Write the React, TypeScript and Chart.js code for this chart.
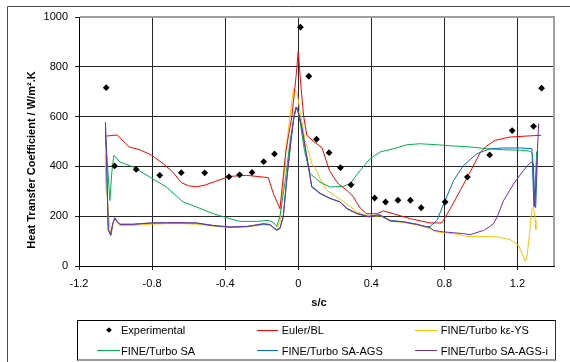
import React, { useEffect, useRef } from 'react';
import { Chart, registerables } from 'chart.js';

Chart.register(...registerables);

const FONT = '"Liberation Sans", Arial, sans-serif';

const xTicks = [-1.2, -0.8, -0.4, 0, 0.4, 0.8, 1.2];
const yTicks = [0, 200, 400, 600, 800, 1000];

const expX = [-1.051, -1.005, -0.887, -0.758, -0.64, -0.512, -0.379, -0.321, -0.253, -0.189, -0.13, 0.012, 0.058, 0.1, 0.169, 0.231, 0.289, 0.418, 0.478, 0.546, 0.614, 0.673, 0.804, 0.926, 1.048, 1.171, 1.288, 1.332];
const expY = [716, 402, 388, 364, 375, 374, 358, 366, 376, 419, 450, 959, 762, 509, 455, 395, 326, 273, 257, 264, 264, 234, 257, 357, 446, 544, 561, 714];

const eulerX = [-1.049, -0.991, -0.925, -0.867, -0.803, -0.739, -0.687, -0.64, -0.6, -0.556, -0.51, -0.465, -0.374, -0.282, -0.164, -0.136, -0.1, -0.067, -0.035, -0.012, 0.0, 0.015, 0.03, 0.047, 0.085, 0.13, 0.15, 0.17, 0.195, 0.22, 0.266, 0.3, 0.32, 0.34, 0.375, 0.43, 0.466, 0.521, 0.613, 0.722, 0.786, 0.832, 0.887, 0.941, 0.996, 1.024, 1.078, 1.16, 1.252, 1.329];
const eulerY = [522, 526, 478, 467, 445, 411, 378, 335, 322, 318, 325, 337, 360, 364, 355, 291, 230, 465, 600, 760, 863, 720, 600, 525, 500, 475, 430, 385, 355, 330, 304, 280, 255, 232, 210, 210, 221, 210, 190, 173, 173, 230, 304, 378, 455, 478, 505, 518, 522, 525];

const keX = [-1.057, -1.052, -1.046, -1.038, -1.026, -1.015, -1.002, -0.99, -0.976, -0.904, -0.812, -0.721, -0.63, -0.556, -0.465, -0.374, -0.282, -0.191, -0.155, -0.13, -0.118, -0.1, -0.085, -0.065, -0.045, -0.027, -0.008, 0.01, 0.037, 0.055, 0.074, 0.101, 0.119, 0.156, 0.211, 0.266, 0.32, 0.375, 0.43, 0.448, 0.503, 0.576, 0.649, 0.722, 0.759, 0.85, 0.923, 0.996, 1.088, 1.16, 1.206, 1.233, 1.243, 1.252, 1.266, 1.279, 1.288, 1.297, 1.301];
const keY = [445, 300, 290, 200, 120, 165, 190, 172, 163, 163, 168, 170, 170, 168, 160, 155, 157, 165, 164, 150, 147, 175, 300, 480, 600, 712, 700, 625, 505, 465, 411, 384, 351, 304, 277, 250, 217, 204, 200, 202, 180, 175, 165, 150, 137, 130, 119, 119, 117, 106, 83, 36, 19, 36, 130, 230, 237, 183, 146];

const saX = [-1.055, -1.045, -1.031, -1.02, -1.009, -0.976, -0.904, -0.812, -0.721, -0.63, -0.556, -0.465, -0.374, -0.319, -0.227, -0.164, -0.135, -0.118, -0.1, -0.07, -0.045, -0.02, -0.008, 0.01, 0.035, 0.065, 0.119, 0.174, 0.247, 0.284, 0.339, 0.393, 0.448, 0.521, 0.595, 0.667, 0.759, 0.85, 0.941, 1.033, 1.124, 1.215, 1.27, 1.283, 1.292, 1.305];
const saY = [525, 420, 263, 380, 445, 418, 398, 357, 317, 257, 237, 210, 190, 179, 179, 183, 175, 159, 200, 350, 500, 610, 639, 580, 460, 371, 337, 317, 320, 331, 384, 431, 458, 471, 487, 491, 487, 482, 478, 471, 467, 465, 461, 451, 240, 460];

const agsX = [-1.055, -1.048, -1.04, -1.028, -1.015, -1.004, -0.99, -0.976, -0.904, -0.812, -0.721, -0.63, -0.556, -0.465, -0.374, -0.282, -0.191, -0.155, -0.13, -0.118, -0.1, -0.082, -0.063, -0.04, -0.025, -0.012, 0.0, 0.019, 0.047, 0.065, 0.074, 0.119, 0.174, 0.229, 0.266, 0.32, 0.384, 0.43, 0.448, 0.503, 0.576, 0.649, 0.697, 0.722, 0.759, 0.804, 0.85, 0.905, 0.978, 1.051, 1.124, 1.215, 1.279, 1.29, 1.3, 1.31];
const agsY = [560, 380, 150, 125, 172, 192, 178, 168, 168, 172, 173, 173, 172, 162, 156, 158, 168, 166, 152, 146, 152, 200, 348, 505, 595, 638, 622, 560, 440, 360, 320, 293, 272, 258, 232, 212, 199, 205, 205, 183, 178, 168, 158, 159, 183, 263, 343, 404, 451, 471, 474, 474, 471, 240, 235, 460];

const agsiX = [-1.055, -1.048, -1.04, -1.026, -1.015, -1.004, -0.99, -0.976, -0.904, -0.812, -0.721, -0.63, -0.556, -0.465, -0.374, -0.282, -0.191, -0.155, -0.13, -0.118, -0.1, -0.082, -0.063, -0.04, -0.025, -0.012, 0.0, 0.019, 0.047, 0.065, 0.074, 0.119, 0.174, 0.229, 0.266, 0.32, 0.384, 0.43, 0.448, 0.503, 0.576, 0.649, 0.722, 0.74, 0.795, 0.905, 0.941, 1.014, 1.046, 1.069, 1.088, 1.124, 1.179, 1.233, 1.265, 1.279, 1.287, 1.295, 1.305, 1.316];
const agsiY = [578, 400, 143, 123, 170, 194, 178, 167, 167, 173, 174, 174, 173, 163, 157, 159, 170, 167, 150, 143, 150, 197, 344, 500, 590, 636, 620, 558, 438, 357, 317, 291, 271, 257, 230, 210, 197, 204, 204, 181, 177, 167, 154, 143, 137, 130, 126, 143, 157, 170, 196, 263, 330, 384, 411, 418, 411, 237, 400, 572];

const seriesNames = ['Experimental', 'Euler/BL', 'FINE/Turbo k\u03b5-YS', 'FINE/Turbo SA', 'FINE/Turbo SA-AGS', 'FINE/Turbo SA-AGS-i'];
const seriesColors = ['#000000', '#ff0000', '#ffc000', '#00b050', '#0070c0', '#7030a0'];

const pts = (xs: number[], ys: number[]) => xs.map((x, i) => ({ x, y: ys[i] }));

const framePlugin = {
  id: 'frame',
  beforeDraw(chart: any) {
    const { ctx } = chart;
    ctx.save();
    ctx.strokeStyle = '#4a4a4a';
    ctx.lineWidth = 1;
    ctx.beginPath();
    ctx.moveTo(7.5, 362);
    ctx.lineTo(7.5, 6.5);
    ctx.lineTo(570, 6.5);
    ctx.stroke();
    ctx.restore();
  },
  afterDraw(chart: any) {
    const { ctx, chartArea: a } = chart;
    ctx.save();
    ctx.strokeStyle = '#a0a0a0';
    ctx.lineWidth = 2;
    ctx.beginPath();
    ctx.moveTo(a.left + 1, a.top);
    ctx.lineTo(a.right, a.top);
    ctx.lineTo(a.right, a.bottom);
    ctx.stroke();
    ctx.restore();
  },
};

const lineDs = (i: number, xs: number[], ys: number[], order: number) => ({
  label: seriesNames[i],
  data: pts(xs, ys),
  showLine: true,
  borderColor: seriesColors[i],
  backgroundColor: seriesColors[i],
  borderWidth: 1,
  pointRadius: 0,
  tension: 0,
  fill: false,
  order,
});

export default function App() {
  const ref = useRef<HTMLCanvasElement>(null);

  useEffect(() => {
    if (!ref.current) return;
    const tickFont = { family: FONT, size: 11 };
    const chart = new Chart(ref.current, {
      type: 'scatter',
      data: {
        datasets: [
          {
            label: seriesNames[0],
            data: pts(expX, expY),
            showLine: false,
            pointStyle: 'rectRot',
            pointRadius: 3.4,
            backgroundColor: '#000',
            borderColor: '#000',
            borderWidth: 0,
            order: 0,
          } as any,
          lineDs(5, agsiX, agsiY, 1),
          lineDs(4, agsX, agsY, 2),
          lineDs(1, eulerX, eulerY, 3),
          lineDs(3, saX, saY, 4),
          lineDs(2, keX, keY, 5),
        ],
      },
      options: {
        responsive: false,
        animation: false,
        events: [],
        layout: { padding: { left: 18, top: 17, right: 16, bottom: 66 } },
        plugins: { legend: { display: false }, tooltip: { enabled: false } },
        scales: {
          x: {
            type: 'linear',
            min: -1.2,
            max: 1.4,
            afterBuildTicks: (s: any) => {
              s.ticks = xTicks.map((v) => ({ value: v }));
            },
            afterFit: (s: any) => {
              s.height = 30;
            },
            ticks: {
              font: tickFont,
              color: '#000',
              padding: 7,
              maxRotation: 0,
              autoSkip: false,
              callback: (v: any) => String(Math.round(Number(v) * 10) / 10),
            },
            grid: { color: '#262626', lineWidth: 1, tickLength: 4 },
            border: { display: true, color: '#000', width: 1 },
          },
          y: {
            type: 'linear',
            min: 0,
            max: 1000,
            afterBuildTicks: (s: any) => {
              s.ticks = yTicks.map((v) => ({ value: v }));
            },
            afterFit: (s: any) => {
              s.width = 61;
            },
            ticks: {
              font: tickFont,
              color: '#000',
              padding: 7,
              callback: (v: any) => String(v),
            },
            grid: { color: '#262626', lineWidth: 1, tickLength: 4 },
            border: { display: true, color: '#000', width: 1 },
          },
        },
      },
      plugins: [framePlugin],
    });
    return () => chart.destroy();
  }, []);

  const text: React.CSSProperties = {
    position: 'absolute',
    fontFamily: FONT,
    fontSize: 11,
    lineHeight: '14px',
    height: 14,
    color: '#000',
    whiteSpace: 'nowrap',
  };
  const swatch = (left: number, width: number, top: number, color: string): React.CSSProperties => ({
    position: 'absolute',
    left,
    top,
    width,
    height: 1,
    background: color,
  });

  const row1 = 330;
  const row2 = 350.7;

  return (
    <div style={{ position: 'absolute', left: 0, top: 0, width: 570, height: 362, background: '#fff', overflow: 'hidden' }}>
      <canvas ref={ref} width={570} height={362} style={{ display: 'block', width: 570, height: 362 }} />
      <div
        style={{
          ...text,
          fontWeight: 'bold',
          left: 31 - 110,
          top: 159.7 - 7,
          width: 220,
          textAlign: 'center',
          transform: 'rotate(-90deg)',
        }}
      >
        Heat Transfer Coefficient / W/m²
        <span>.K</span>
      </div>
      <div style={{ ...text, fontWeight: 'bold', left: 319 - 30, top: 301.7 - 7, width: 60, textAlign: 'center' }}>s/c</div>

      <div
        style={{
          position: 'absolute',
          left: 77,
          top: 320,
          width: 477,
          height: 38,
          borderLeft: '1px solid #000',
          borderTop: '1px solid #000',
          borderRight: '1px solid #333',
          borderBottom: '2px solid #9a9a9a',
        }}
      />
      <div
        style={{
          position: 'absolute',
          left: 109.3 - 2,
          top: row1 - 2,
          width: 4,
          height: 4,
          background: '#000',
          transform: 'rotate(45deg)',
        }}
      />
      <div style={{ ...text, left: 121, top: row1 - 7 }}>{seriesNames[0]}</div>
      <div style={swatch(256.7, 21.6, row1 - 0.5, seriesColors[1])} />
      <div style={{ ...text, left: 281.7, top: row1 - 7 }}>{seriesNames[1]}</div>
      <div style={swatch(415, 21.7, row1 - 0.5, seriesColors[2])} />
      <div style={{ ...text, left: 440.7, top: row1 - 7 }}>{seriesNames[2]}</div>

      <div style={swatch(97.3, 22.7, row2 - 0.5, seriesColors[3])} />
      <div style={{ ...text, left: 121, top: row2 - 7 }}>{seriesNames[3]}</div>
      <div style={swatch(256.7, 21.6, row2 - 0.5, seriesColors[4])} />
      <div style={{ ...text, left: 281.7, top: row2 - 7 }}>{seriesNames[4]}</div>
      <div style={swatch(415, 21.7, row2 - 0.5, seriesColors[5])} />
      <div style={{ ...text, left: 440.7, top: row2 - 7 }}>{seriesNames[5]}</div>
    </div>
  );
}
